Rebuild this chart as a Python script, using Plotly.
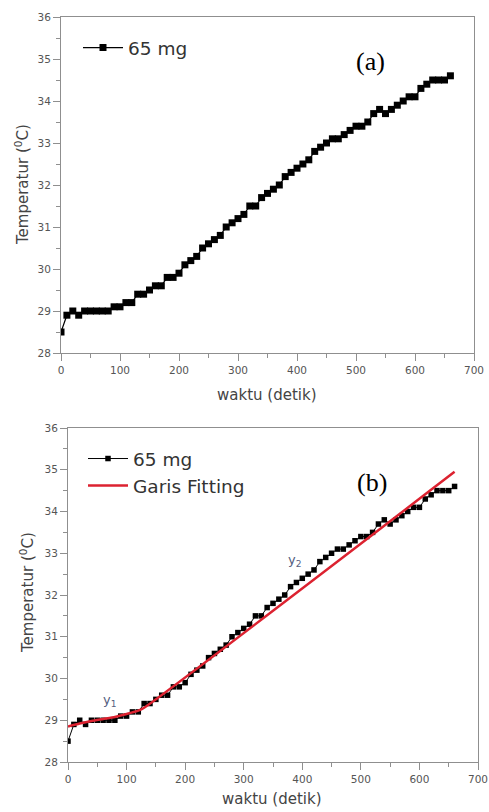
import plotly.graph_objects as go

# time (s) and temperature (°C)
waktu = list(range(0, 670, 10))
temperatur = [28.5, 28.9, 29.0, 28.9, 29.0, 29.0, 29.0, 29.0, 29.0, 29.1,
              29.1, 29.2, 29.2, 29.4, 29.4, 29.5, 29.6, 29.6, 29.8, 29.8,
              29.9, 30.1, 30.2, 30.3, 30.5, 30.6, 30.7, 30.8, 31.0, 31.1,
              31.2, 31.3, 31.5, 31.5, 31.7, 31.8, 31.9, 32.0, 32.2, 32.3,
              32.4, 32.5, 32.6, 32.8, 32.9, 33.0, 33.1, 33.1, 33.2, 33.3,
              33.4, 33.4, 33.5, 33.7, 33.8, 33.7, 33.8, 33.9, 34.0, 34.1,
              34.1, 34.3, 34.4, 34.5, 34.5, 34.5, 34.6]

fit_t = [0, 20, 40, 60, 80, 100, 120, 130, 660]
fit_T = [28.85, 28.92, 28.98, 29.03, 29.08, 29.15, 29.23, 29.3, 34.95]

series_name = "65 mg"
fit_name = "Garis Fitting"
x_title = "waktu (detik)"
y_title = "Temperatur (<sup>0</sup>C)"

W, H = 489, 812
FONT = "DejaVu Sans, Verdana, sans-serif"
TICKC = "#555555"
AXC = "#8f8f8f"

fig = go.Figure()

fig.add_trace(go.Scatter(x=waktu, y=temperatur, mode="lines+markers", name=series_name,
                         line=dict(color="black", width=1.2),
                         marker=dict(symbol="square", size=7, color="black"),
                         xaxis="x", yaxis="y", legend="legend"))
fig.add_trace(go.Scatter(x=waktu, y=temperatur, mode="lines+markers", name=series_name,
                         line=dict(color="black", width=1),
                         marker=dict(symbol="square", size=5.5, color="black"),
                         xaxis="x2", yaxis="y2", legend="legend2"))
fig.add_trace(go.Scatter(x=fit_t, y=fit_T, mode="lines", name=fit_name,
                         line=dict(color="#dc2230", width=2.5, shape="spline", smoothing=0.6),
                         xaxis="x2", yaxis="y2", legend="legend2"))

def px_x(p):
    return p / W

def px_y(p):
    return 1 - p / H

axis_common = dict(range=[0, 700], dtick=100, ticks="outside", ticklen=7, tickwidth=1,
                   tickcolor=AXC, showline=True, linecolor=AXC, linewidth=1, mirror=True,
                   showgrid=False, zeroline=False, automargin=False,
                   tickfont=dict(family=FONT, size=10.5, color=TICKC),
                   minor=dict(dtick=50, ticks="outside", ticklen=4, tickcolor=AXC))
yaxis_common = dict(range=[28, 36], dtick=1, ticks="outside", ticklen=7, tickwidth=1,
                    tickcolor=AXC, showline=True, linecolor=AXC, linewidth=1, mirror=True,
                    showgrid=False, zeroline=False, automargin=False,
                    tickfont=dict(family=FONT, size=10.5, color=TICKC),
                    minor=dict(dtick=0.5, ticks="outside", ticklen=4, tickcolor=AXC))

fig.update_layout(
    width=W, height=H,
    margin=dict(l=0, r=0, t=0, b=0, autoexpand=False),
    paper_bgcolor="white", plot_bgcolor="white",
    xaxis=dict(domain=[px_x(61), px_x(474)], anchor="y", **axis_common),
    yaxis=dict(domain=[px_y(353), px_y(17)], anchor="x", **yaxis_common),
    xaxis2=dict(domain=[px_x(68), px_x(478)], anchor="y2", **axis_common),
    yaxis2=dict(domain=[px_y(762), px_y(428)], anchor="x2", **yaxis_common),
    legend=dict(x=px_x(78), y=px_y(29), xanchor="left", yanchor="top",
                bgcolor="rgba(0,0,0,0)", font=dict(family=FONT, size=18.5, color="#333333"),
                itemwidth=40),
    legend2=dict(x=px_x(83), y=px_y(440), xanchor="left", yanchor="top",
                 bgcolor="rgba(0,0,0,0)", font=dict(family=FONT, size=18.5, color="#333333"),
                 itemwidth=40, tracegroupgap=0),
    showlegend=True,
)

SERIF = "Liberation Serif, Times New Roman, serif"
ann = []
def add_text(text, x, y, font, angle=0):
    ann.append(dict(text=text, x=px_x(x), y=px_y(y), xref="paper", yref="paper",
                    xanchor="center", yanchor="middle", textangle=angle,
                    showarrow=False, font=font))

add_text("(a)", 370, 62, dict(family=SERIF, size=26, color="black"))
add_text("(b)", 372, 482, dict(family=SERIF, size=26, color="black"))
add_text(x_title, 267, 395, dict(family=FONT, size=15, color="#444444"))
add_text(x_title, 272, 799, dict(family=FONT, size=15, color="#444444"))
add_text(y_title, 22, 185, dict(family=FONT, size=15, color="#444444"), -90)
add_text(y_title, 27, 593, dict(family=FONT, size=15, color="#444444"), -90)
add_text("y<sub>2</sub>", 295, 560, dict(family=FONT, size=13, color="#556080"))
add_text("y<sub>1</sub>", 110, 700, dict(family=FONT, size=13, color="#556080"))
fig.update_layout(annotations=ann)

fig.write_html("out.html", config={"displayModeBar": False},
               post_script="document.body.style.margin='0px';document.body.style.overflow='hidden';")
